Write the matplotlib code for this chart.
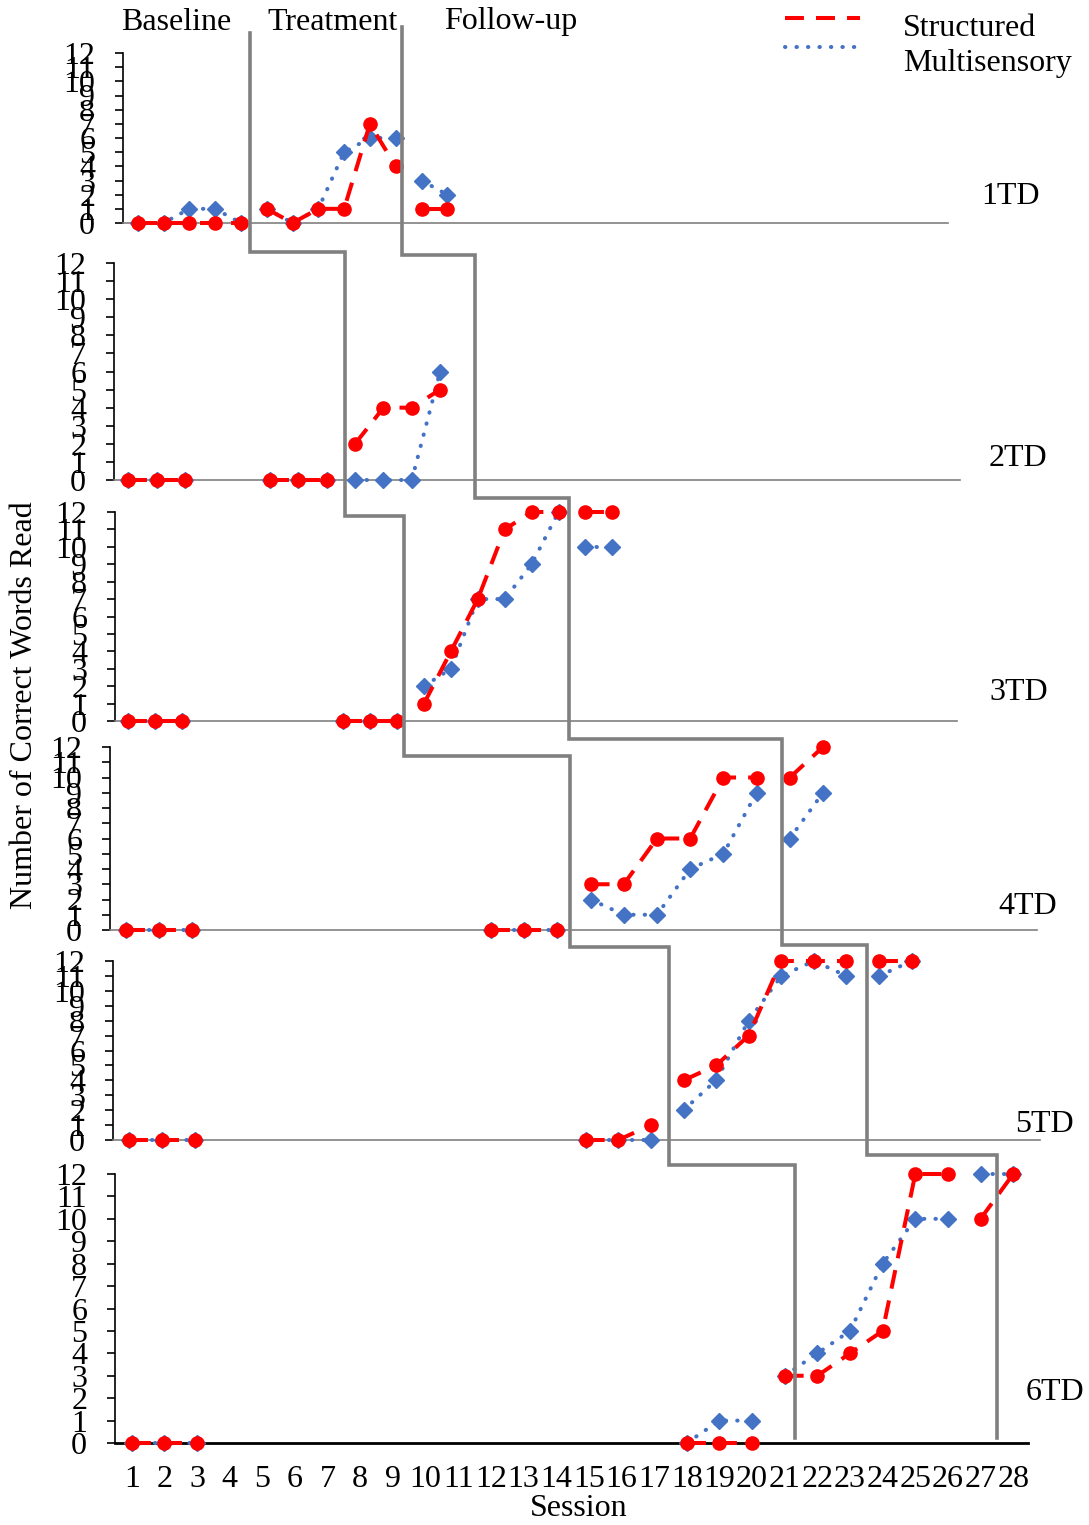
import matplotlib
matplotlib.use("Agg")
from matplotlib import pyplot as plt
from matplotlib.lines import Line2D
import numpy as np

plt.rcParams['font.family'] = ['Liberation Serif', 'DejaVu Serif']

RED = '#FF0000'
BLUE = '#4472C4'
GREY = '#808080'

# data: each panel split into phase segments (session position, score)
td1_sessions = [[1, 2, 3, 4, 5], [6, 7, 8, 9, 10, 11], [12, 13]]
td1_structured = [[0, 0, 0, 0, 0], [1, 0, 1, 1, 7, 4], [1, 1]]
td1_multisensory = [[0, 0, 1, 1, 0], [1, 0, 1, 5, 6, 6], [3, 2]]

td2_sessions = [[1, 2, 3], [6, 7, 8], [9, 10, 11, 12]]
td2_structured = [[0, 0, 0], [0, 0, 0], [2, 4, 4, 5]]
td2_multisensory = [[0, 0, 0], [0, 0, 0], [0, 0, 0, 6]]

td3_sessions = [[1, 2, 3], [9, 10, 11], [12, 13, 14, 15, 16, 17], [18, 19]]
td3_structured = [[0, 0, 0], [0, 0, 0], [1, 4, 7, 11, 12, 12], [12, 12]]
td3_multisensory = [[0, 0, 0], [0, 0, 0], [2, 3, 7, 7, 9, 12], [10, 10]]

td4_sessions = [[1, 2, 3], [12, 13, 14], [15, 16, 17, 18, 19, 20], [21, 22]]
td4_structured = [[0, 0, 0], [0, 0, 0], [3, 3, 6, 6, 10, 10], [10, 12]]
td4_multisensory = [[0, 0, 0], [0, 0, 0], [2, 1, 1, 4, 5, 9], [6, 9]]

td5_sessions = [[1, 2, 3], [15, 16, 17], [18, 19, 20, 21, 22, 23], [24, 25]]
td5_structured = [[0, 0, 0], [0, 0, 1], [4, 5, 7, 12, 12, 12], [12, 12]]
td5_multisensory = [[0, 0, 0], [0, 0, 0], [2, 4, 8, 11, 12, 11], [11, 12]]

td6_sessions = [[1, 2, 3], [18, 19, 20], [21, 22, 23, 24, 25, 26], [27, 28]]
td6_structured = [[0, 0, 0], [0, 0, 0], [3, 3, 4, 5, 12, 12], [10, 12]]
td6_multisensory = [[0, 0, 0], [0, 1, 1], [3, 4, 5, 8, 10, 10], [12, 12]]

participants = ['1TD', '2TD', '3TD', '4TD', '5TD', '6TD']
sessions = [td1_sessions, td2_sessions, td3_sessions, td4_sessions, td5_sessions, td6_sessions]
structured = [td1_structured, td2_structured, td3_structured, td4_structured, td5_structured, td6_structured]
multisensory = [td1_multisensory, td2_multisensory, td3_multisensory, td4_multisensory, td5_multisensory, td6_multisensory]

# phase change lines (session position in each panel) and the level of each step
treat_start = [5.35, 8.64, 11.26, 14.38, 17.57, 21.33]
treat_step = [13.41, 12.63, 11.77, 11.41, 12.92, 12.42]
follow_start = [11.24, 13.23, 17.39, 20.77, 23.63, 27.5]
follow_step = [13.83, 12.46, 12.8, 12.52, 13.05, 12.86]
phase_bottom = 0.21

session_ticks = list(range(1, 29))

W, H = 1089, 1525
fig = plt.figure(figsize=(W / 100, H / 100), dpi=100)

RED_STYLE = (0, (4.7, 3.0))
BLUE_STYLE = (0, (0.1, 2.75))
LW = 2.9

# panel layout in pixels: y-axis x, x-axis end, y of 0, y of 12, x of session 1, session spacing
layout = [
    (123, 948, 223, 53, 137.7, 25.8),
    (114, 960, 480, 263, 128.3, 28.35),
    (115, 957, 721, 512, 128.1, 26.9),
    (110, 1037, 930, 747, 125.8, 33.2),
    (113, 1040, 1140, 961, 129.3, 32.6),
    (115, 1028, 1443, 1174, 131.7, 32.65),
]
label_pos = [(1010, 196), (1018, 459), (1019, 693), (1028, 906), (1044, 1124), (1055, 1393)]

axes = []
for i, (left, right, y0, y12, p1, sp) in enumerate(layout):
    ax = fig.add_axes([left / W, 1 - y0 / H, (right - left) / W, (y0 - y12) / H])
    ax.set_facecolor('none')
    ax.set_ylim(0, 12)
    ax.set_xlim(1 - (p1 - left) / sp, 1 + (right - p1) / sp)
    for sp_name in ['top', 'right']:
        ax.spines[sp_name].set_visible(False)
    ax.spines['left'].set_color('black')
    ax.spines['left'].set_linewidth(1.2)
    last = i == len(layout) - 1
    ax.spines['bottom'].set_color('black' if last else GREY)
    ax.spines['bottom'].set_linewidth(2.0 if last else 1.2)
    ax.set_yticks(range(0, 13))
    ax.tick_params(axis='y', direction='out', length=6, width=1.2, labelsize=23, pad=14)
    if last:
        ax.set_xticks(session_ticks)
        ax.tick_params(axis='x', length=0, labelsize=23, pad=16)
    else:
        ax.set_xticks([])

    for xs, s, m in zip(sessions[i], structured[i], multisensory[i]):
        ax.plot(xs, m, color=BLUE, lw=LW, linestyle=BLUE_STYLE, dash_capstyle='round',
                marker='D', ms=8.5, clip_on=False, zorder=3)
        ax.plot(xs, s, color=RED, lw=LW, linestyle=RED_STYLE,
                marker='o', ms=9.5, clip_on=False, zorder=4)

    fig.text(label_pos[i][0] / W, 1 - label_pos[i][1] / H, participants[i],
             fontsize=23, ha='center', va='center')
    axes.append(ax)

# phase change lines across the stacked panels
to_fig = fig.transFigure.inverted()
for xs_phase, steps in [(treat_start, treat_step), (follow_start, follow_step)]:
    pts = [tuple(axes[0].transData.transform((xs_phase[0], steps[0])))]
    for k in range(1, len(axes)):
        yk = axes[k].transData.transform((0, steps[k]))[1]
        pts.append((axes[k - 1].transData.transform((xs_phase[k - 1], 0))[0], yk))
        pts.append((axes[k].transData.transform((xs_phase[k], 0))[0], yk))
    pts.append(tuple(axes[-1].transData.transform((xs_phase[-1], phase_bottom))))
    pts = to_fig.transform(np.array(pts))
    fig.add_artist(Line2D(pts[:, 0], pts[:, 1], color=GREY, lw=2.6, zorder=5,
                          solid_joinstyle='miter'))

# phase names
for name, x in [('Baseline', 176), ('Treatment', 333), ('Follow-up', 511)]:
    fig.text(x / W, 1 - 22 / H, name, fontsize=23, ha='center', va='center')

# legend
fig.add_artist(Line2D([785 / W, 860 / W], [1 - 18 / H] * 2, color=RED, lw=LW,
                      linestyle=RED_STYLE))
fig.add_artist(Line2D([785 / W, 860 / W], [1 - 47 / H] * 2, color=BLUE, lw=LW,
                      linestyle=BLUE_STYLE, dash_capstyle='round'))
fig.text(903 / W, 1 - 29 / H, 'Structured', fontsize=23, ha='left', va='center')
fig.text(903 / W, 1 - 63 / H, 'Multisensory', fontsize=23, ha='left', va='center')

fig.text(25 / W, 1 - 705 / H, 'Number of Correct Words Read', fontsize=23,
         rotation=90, ha='center', va='center')
fig.text(579 / W, 1 - 1508 / H, 'Session', fontsize=23, ha='center', va='center')

fig.savefig('out.png', dpi=100)
